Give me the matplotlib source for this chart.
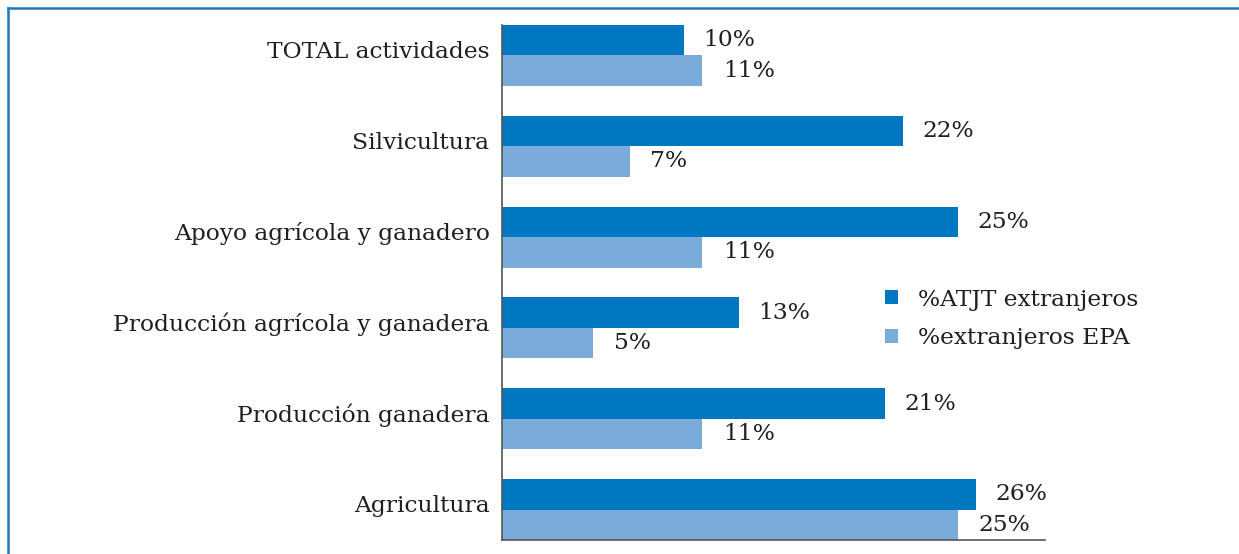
import numpy as np
import matplotlib
matplotlib.use('Agg')
import matplotlib.pyplot as plt
from matplotlib.lines import Line2D

# data (bottom to top as drawn)
categories = ['Agricultura', 'Producción ganadera', 'Producción agrícola y ganadera',
              'Apoyo agrícola y ganadero', 'Silvicultura', 'TOTAL actividades']
atjt = [26, 21, 13, 25, 22, 10]
epa = [25, 11, 5, 11, 7, 11]
series_names = ['%ATJT extranjeros', '%extranjeros EPA']

dark = '#0077C1'
light = '#7BABDA'
txt = '#231f20'
fs = 16.8
plt.rcParams['font.family'] = ['DejaVu Serif']

fig = plt.figure(figsize=(12.39, 5.54), dpi=100)
ax = fig.add_axes([502 / 1239, 14 / 554, 543 / 1239, 515 / 554])

h = 0.335
y = np.arange(len(categories))
b1 = ax.barh(y + h / 2, atjt, height=h, color=dark, label=series_names[0])
b2 = ax.barh(y - h / 2, epa, height=h, color=light, label=series_names[1])

for yy, v in zip(y, atjt):
    ax.annotate(f'{v}%', (v, yy + h / 2), xytext=(14, 0), textcoords='offset points',
                ha='left', va='center', fontsize=fs, color=txt)
for yy, v in zip(y, epa):
    ax.annotate(f'{v}%', (v, yy - h / 2), xytext=(15, 0), textcoords='offset points',
                ha='left', va='center', fontsize=fs, color=txt)

ax.set_xlim(0, 29.8)
ax.set_ylim(-h, len(categories) - 1 + h)
# labels sit a little above the group centre
ax.set_yticks(y + 0.065)
ax.set_yticklabels(categories, fontsize=fs, color=txt)
ax.tick_params(axis='y', length=0, pad=9)
ax.set_xticks([])
for s in ['top', 'right']:
    ax.spines[s].set_visible(False)
ax.spines['left'].set_color('#555555')
ax.spines['bottom'].set_color('#555555')
ax.spines['left'].set_linewidth(1.2)
ax.spines['bottom'].set_linewidth(1.2)

ax.legend(handles=[b1, b2], loc='upper left', bbox_to_anchor=(0.667, 0.529),
          frameon=False, fontsize=fs, handlelength=0.55, handleheight=0.55,
          handletextpad=0.85, labelspacing=0.7, labelcolor=txt)

# blue frame on left and top
fig.add_artist(Line2D([7.5 / 1239, 7.5 / 1239], [0, 1 - 7.5 / 554], color='#1F78C1', lw=1.8))
fig.add_artist(Line2D([7.5 / 1239, 1], [1 - 7.5 / 554, 1 - 7.5 / 554], color='#1F78C1', lw=1.8))

fig.savefig('out.png', dpi=100)
